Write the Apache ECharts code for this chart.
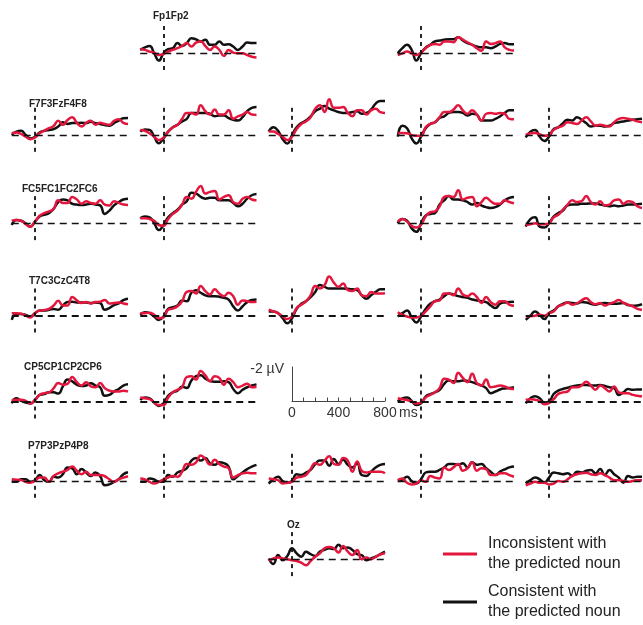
<!DOCTYPE html>
<html><head><meta charset="utf-8">
<script src="https://cdn.jsdelivr.net/npm/echarts@6/dist/echarts.min.js"></script>
<style>html,body{margin:0;padding:0;background:#fff}#c{width:643px;height:625px}</style>
</head><body><div id="c"></div>
<script>
// ---- DATA ----
const times = [-200,-160,-120,-80,-40,0,40,80,120,160,200,240,280,320,360,400,440,480,520,560,600,640,680,720,760,800];
const seriesNames = ['Inconsistent with\nthe predicted noun', 'Consistent with\nthe predicted noun'];
const scaleTicks = [0, 400, 800];
const scaleAmp = 2;
const groupLabels = ['Fp1Fp2','F7F3FzF4F8','FC5FC1FC2FC6','T7C3CzC4T8','CP5CP1CP2CP6','P7P3PzP4P8','Oz'];

const Fp1_con = [-0.2,-0.35,-0.43,0,0.43,0,-0.25,-0.3,-0.6,-0.43,-0.6,-0.88,-0.82,-0.7,-0.8,-0.5,-0.5,-0.7,-0.5,-0.53,-0.4,-0.2,-0.4,-0.63,-0.6,-0.6];
const Fp1_inc = [-0.24,-0.2,-0.1,-0.04,0.1,0.04,-0.1,-0.2,-0.3,-0.43,-0.6,-0.4,-0.63,-0.7,-0.43,-0.2,-0.4,-0.2,0.16,-0.2,-0.04,0,0,0.1,0.2,0.24];
const Fp2_con = [0,-0.3,-0.5,-0.2,0.43,0,-0.33,-0.5,-0.7,-0.75,-0.8,-0.82,-0.82,-0.94,-0.75,-0.6,-0.5,-0.4,-0.35,-0.35,-0.3,-0.4,-0.55,-0.6,-0.53,-0.53];
const Fp2_inc = [0.1,0,-0.1,0,0.1,-0.05,-0.3,-0.5,-0.55,-0.5,-0.7,-0.7,-0.65,-0.95,-0.8,-0.65,-0.5,-0.3,-0.15,-0.7,-0.55,-0.6,-0.7,-0.35,-0.2,-0.16];
const F7_con = [0,-0.2,-0.25,0,0.2,0.1,-0.15,-0.25,-0.3,-0.35,-0.5,-0.75,-0.65,-0.7,-0.7,-0.72,-0.7,-0.78,-0.7,-0.65,-0.58,-0.55,-0.7,-0.85,-0.98,-1.0];
const F7_inc = [-0.1,-0.14,-0.06,0.1,0.25,0.14,-0.1,-0.25,-0.4,-0.53,-0.84,-0.6,-0.88,-1.04,-0.72,-0.5,-0.72,-0.84,-0.6,-0.72,-0.65,-0.6,-0.84,-0.92,-0.72,-0.65];
const F3_con = [-0.2,-0.33,-0.3,0.1,0.48,0.2,-0.2,-0.45,-0.6,-0.8,-0.95,-1.3,-1.3,-1.3,-1.3,-1.25,-1.1,-1.15,-1.15,-1.0,-0.9,-0.85,-1.05,-1.4,-1.6,-1.65];
const F3_inc = [-0.3,-0.25,-0.1,0.1,0.3,0.15,-0.2,-0.45,-0.6,-0.95,-1.3,-1.3,-1.2,-1.75,-1.4,-1.2,-1.5,-1.2,-1.2,-1.45,-0.95,-1.1,-1.2,-1.35,-1.2,-1.18];
const Fz_con = [-0.2,-0.45,-0.25,0.25,0.5,0,-0.45,-0.7,-0.85,-1.1,-1.4,-1.55,-1.7,-1.55,-1.45,-1.35,-1.3,-1.3,-1.35,-1.4,-1.25,-1.3,-1.5,-1.85,-2.0,-2.0];
const Fz_inc = [-0.2,-0.2,-0.06,0.1,0.3,0.1,-0.35,-0.65,-0.8,-1.05,-1.55,-1.75,-1.35,-2.1,-1.6,-1.6,-1.65,-1.3,-1.1,-1.45,-1.45,-1.2,-1.45,-1.55,-1.35,-1.3];
const F4_con = [0.1,-0.55,-0.4,0.2,0.5,0.1,-0.4,-0.65,-0.75,-1.0,-1.1,-1.3,-1.35,-1.35,-1.3,-1.15,-1.25,-1.2,-0.85,-0.85,-0.85,-0.95,-1.1,-1.3,-1.45,-1.45];
const F4_inc = [-0.1,-0.12,-0.1,0,0.05,0.05,-0.45,-0.65,-0.75,-1.05,-1.35,-1.35,-1.5,-1.75,-1.45,-1.25,-1.45,-1.2,-0.85,-1.25,-1.3,-1.25,-1.3,-1.25,-0.95,-0.92];
const F8_con = [0.15,-0.2,-0.3,0.1,0.35,0.1,-0.35,-0.45,-0.7,-0.9,-0.85,-1.05,-0.9,-0.7,-0.5,-0.55,-0.55,-0.5,-0.55,-0.7,-0.75,-0.8,-0.85,-0.9,-0.92,-0.95];
const F8_inc = [0,-0.1,-0.12,-0.05,0.05,0,-0.3,-0.45,-0.55,-0.75,-0.7,-0.65,-0.85,-1.05,-0.8,-0.55,-0.6,-0.55,-0.5,-0.75,-0.95,-1.0,-0.95,-0.9,-0.8,-0.75];
const FC5_con = [0.1,-0.2,-0.15,0,0.2,-0.1,-0.4,-0.5,-0.6,-0.85,-1.25,-1.4,-1.35,-1.15,-1.1,-1.08,-1.1,-1.15,-1.1,-1.05,-0.55,-0.75,-1.05,-1.25,-1.4,-1.45];
const FC5_inc = [-0.15,-0.2,-0.15,0.05,0.2,-0.1,-0.45,-0.6,-0.7,-0.85,-1.35,-1.2,-1.2,-1.55,-1.4,-1.15,-1.3,-1.2,-1.15,-1.35,-1.1,-1.05,-1.3,-1.2,-1.1,-1.08];
const FC1_con = [-0.3,-0.4,-0.35,0,0.4,0.1,-0.35,-0.6,-0.8,-1.1,-1.3,-1.8,-1.75,-1.55,-1.45,-1.5,-1.5,-1.35,-1.35,-1.35,-1.2,-1.0,-1.15,-1.45,-1.65,-1.72];
const FC1_inc = [-0.3,-0.3,-0.25,-0.15,0.1,0.15,-0.25,-0.55,-0.75,-1.1,-1.55,-1.45,-1.85,-2.2,-1.75,-1.85,-1.9,-1.4,-1.55,-1.65,-1.25,-1.15,-1.45,-1.55,-1.4,-1.35];
const FC2_con = [0,-0.25,-0.15,0.3,0.5,0,-0.45,-0.55,-0.6,-1.1,-1.35,-1.6,-1.4,-1.4,-1.35,-1.25,-1.1,-1.2,-1.05,-0.95,-0.9,-0.95,-1.1,-1.35,-1.5,-1.55];
const FC2_inc = [-0.1,-0.25,-0.1,0.15,0.25,0.1,-0.4,-0.65,-0.7,-1.0,-1.55,-1.6,-1.55,-1.95,-1.4,-1.5,-1.55,-1.0,-1.25,-1.5,-1.3,-1.15,-1.15,-1.35,-1.25,-1.18];
const FC6_con = [0.2,-0.25,-0.35,0.2,0.25,0,-0.4,-0.6,-0.75,-1.05,-1.1,-1.1,-1.15,-1.15,-1.17,-1.17,-1.1,-1.05,-1.0,-1.05,-1.0,-1.05,-1.1,-1.1,-1.12,-1.15];
const FC6_inc = [0.1,0.05,0,0.05,0.05,0,-0.35,-0.5,-0.8,-1.1,-1.35,-1.25,-1.3,-1.6,-1.25,-1.1,-1.3,-1.05,-1.1,-1.35,-1.4,-1.15,-1.3,-1.25,-1.0,-0.9];
const T7_con = [0.25,-0.1,-0.1,-0.05,0.05,-0.15,-0.3,-0.3,-0.35,-0.4,-0.35,-0.6,-0.8,-0.82,-0.78,-0.78,-0.78,-0.75,-0.78,-0.75,-0.35,-0.45,-0.62,-0.72,-0.92,-1.0];
const T7_inc = [-0.15,-0.15,-0.12,0,0.1,-0.15,-0.3,-0.33,-0.4,-0.6,-0.88,-0.6,-0.6,-1.1,-0.9,-0.75,-0.8,-0.72,-0.8,-0.82,-0.92,-0.72,-0.75,-0.78,-0.72,-0.68];
const C3_con = [-0.05,-0.2,-0.15,0.05,0.25,0.05,-0.4,-0.5,-0.6,-0.9,-0.85,-1.35,-1.5,-1.35,-1.2,-1.15,-1.15,-1.12,-1.05,-0.95,-0.55,-0.3,-0.55,-0.8,-0.92,-0.95];
const C3_inc = [-0.15,-0.15,-0.18,-0.05,0.15,0.1,-0.35,-0.42,-0.55,-0.85,-1.4,-1.45,-1.3,-1.75,-1.45,-1.25,-1.55,-1.3,-1.15,-1.35,-1.15,-0.65,-0.9,-0.85,-0.8,-0.82];
const Cz_con = [-0.25,-0.25,-0.15,0.15,0.45,0.15,-0.4,-0.7,-0.85,-1.1,-1.4,-1.8,-1.7,-1.6,-1.6,-1.6,-1.6,-1.58,-1.55,-1.5,-1.2,-1.0,-1.2,-1.4,-1.55,-1.55];
const Cz_inc = [-0.35,-0.25,-0.15,0.05,0.2,0.05,-0.45,-0.65,-0.85,-1.2,-1.75,-1.6,-1.8,-2.3,-1.95,-1.7,-1.9,-1.5,-1.45,-1.6,-1.2,-1.15,-1.4,-1.3,-1.3,-1.32];
const C4_con = [0.05,-0.15,-0.3,0.1,0.4,0.05,-0.4,-0.7,-0.85,-0.95,-1.15,-1.3,-1.25,-1.15,-1.1,-1.05,-0.95,-0.9,-0.85,-0.8,-0.6,-0.45,-0.7,-0.78,-0.8,-0.82];
const C4_inc = [-0.2,-0.05,0.05,0.1,0.1,0,-0.25,-0.55,-0.85,-0.9,-1.3,-1.3,-1.2,-1.6,-1.25,-1.15,-1.3,-1.1,-0.75,-1.1,-0.8,-0.65,-0.85,-0.85,-0.65,-0.58];
const T8_con = [0.25,0,-0.25,-0.05,0.2,-0.15,-0.3,-0.55,-0.7,-0.78,-0.75,-0.72,-0.8,-0.78,-0.7,-0.65,-0.72,-0.75,-0.72,-0.7,-0.72,-0.75,-0.62,-0.58,-0.6,-0.68];
const T8_inc = [0.05,0.02,0,-0.05,0,-0.15,-0.25,-0.55,-0.65,-0.78,-0.65,-0.72,-0.9,-1.02,-0.8,-0.68,-0.75,-0.6,-0.7,-0.8,-0.92,-0.75,-0.65,-0.55,-0.4,-0.35];
const CP5_con = [0.1,-0.2,-0.05,0.05,0.1,-0.1,-0.4,-0.45,-0.55,-0.55,-0.48,-0.9,-1.3,-1.2,-1.0,-0.92,-0.95,-1.08,-0.95,-0.85,-0.35,-0.4,-0.6,-0.75,-0.95,-1.02];
const CP5_inc = [-0.1,-0.12,-0.12,-0.05,0.1,-0.1,-0.4,-0.5,-0.55,-0.78,-1.1,-1.0,-1.05,-1.45,-1.15,-0.95,-1.15,-0.9,-0.85,-1.1,-0.8,-0.65,-0.6,-0.6,-0.65,-0.6];
const CP1_con = [-0.1,-0.25,-0.2,0.05,0.25,0.1,-0.35,-0.55,-0.65,-0.88,-0.8,-1.25,-1.5,-1.55,-1.35,-1.22,-1.18,-1.18,-1.2,-1.15,-0.75,-0.5,-0.7,-0.85,-0.95,-1.02];
const CP1_inc = [-0.25,-0.2,-0.15,0.05,0.2,0.2,-0.25,-0.55,-0.7,-0.85,-1.45,-1.5,-1.3,-1.8,-1.55,-1.2,-1.5,-1.4,-1.0,-1.35,-1.15,-0.85,-0.95,-1.05,-0.85,-0.88];
const CP2_con = [0,-0.2,-0.25,-0.05,0.2,0.1,-0.3,-0.45,-0.55,-0.7,-1.05,-1.25,-1.2,-1.2,-1.25,-1.22,-1.15,-1.05,-0.95,-0.8,-0.5,-0.6,-0.72,-0.78,-0.8,-0.85];
const CP2_inc = [-0.2,-0.15,-0.1,0,0.1,0.05,-0.25,-0.4,-0.55,-0.8,-1.35,-1.3,-1.1,-1.7,-1.4,-1.15,-1.65,-1.1,-0.95,-1.3,-0.85,-0.9,-0.95,-0.9,-0.78,-0.75];
const CP6_con = [0.1,-0.2,-0.32,-0.2,0.05,0,-0.45,-0.65,-0.75,-0.82,-0.9,-0.95,-0.98,-0.98,-0.96,-0.95,-0.98,-0.92,-0.85,-0.8,-0.4,-0.55,-0.75,-0.7,-0.72,-0.72];
const CP6_inc = [-0.1,-0.15,-0.12,-0.05,0.15,0.08,-0.15,-0.45,-0.55,-0.6,-0.85,-0.85,-0.95,-1.18,-0.95,-0.7,-0.95,-0.8,-0.6,-0.9,-0.55,-0.5,-0.5,-0.4,-0.35,-0.3];
const P7_con = [0.05,0.05,-0.1,-0.1,0.05,-0.05,-0.35,-0.05,0.05,-0.25,-0.2,-0.4,-0.8,-0.75,-0.4,-0.7,-0.5,-0.3,-0.5,-0.3,0.25,0.2,0.05,-0.1,-0.4,-0.52];
const P7_inc = [-0.1,-0.08,-0.05,0.05,0.1,0,-0.2,-0.2,0.05,-0.3,-0.45,-0.55,-0.65,-0.85,-0.6,-0.4,-0.55,-0.35,-0.35,-0.35,-0.28,-0.1,0.05,-0.1,-0.2,-0.28];
const P3_con = [0.05,0.05,-0.15,-0.1,0.05,0.05,-0.35,-0.25,-0.5,-0.6,-0.75,-1.2,-1.35,-1.2,-1.35,-1.05,-0.95,-1.1,-1.05,-0.85,-0.1,-0.3,-0.5,-0.7,-0.85,-0.95];
const P3_inc = [-0.15,-0.1,0.05,0.15,0.05,-0.1,-0.2,-0.3,-0.25,-0.55,-1.0,-0.95,-1.1,-1.5,-1.3,-0.95,-1.25,-1.0,-0.85,-0.75,-0.2,-0.35,-0.45,-0.48,-0.45,-0.45];
const Pz_con = [0.15,-0.1,-0.25,0,0.1,0,-0.4,-0.35,-0.5,-0.65,-1.0,-1.2,-1.2,-0.9,-1.3,-1.0,-1.25,-0.95,-0.8,-1.05,-0.35,-0.3,-0.55,-0.8,-0.95,-1.0];
const Pz_inc = [-0.15,-0.1,-0.05,0.15,0.1,0.05,-0.2,-0.25,-0.35,-0.7,-1.05,-0.95,-1.2,-1.45,-1.0,-0.95,-1.35,-1.2,-0.55,-1.15,-0.6,-0.5,-0.55,-0.55,-0.55,-0.45];
const P4_con = [0,-0.08,-0.25,0,0.15,-0.1,-0.5,-0.55,-0.55,-0.65,-0.8,-1.0,-1.0,-0.95,-1.05,-0.8,-1.1,-0.95,-1.0,-0.75,-0.55,-0.35,-0.55,-0.68,-0.8,-0.85];
const P4_inc = [-0.05,-0.15,0.1,0.2,0.15,-0.05,0.05,-0.3,-0.2,-0.15,-0.8,-0.65,-0.8,-1.0,-0.6,-0.75,-1.1,-0.6,-0.75,-0.7,-0.35,-0.35,-0.45,-0.45,-0.35,-0.25];
const P8_con = [0.15,-0.05,-0.2,-0.1,0.1,-0.2,-0.5,-0.45,-0.4,-0.45,-0.3,-0.55,-0.5,-0.6,-0.65,-0.45,-0.7,-0.35,-0.65,-0.4,-0.2,0.1,-0.3,-0.2,-0.25,-0.25];
const P8_inc = [0.25,0.15,0.05,0.1,0.1,0.2,0.15,0,0.05,-0.1,-0.3,-0.4,-0.45,-0.48,-0.4,-0.35,-0.45,-0.35,-0.2,-0.05,-0.05,0,0.05,0,-0.05,-0.05];
const Oz_con = [-0.05,0.28,-0.25,0.05,-0.2,-0.65,-0.35,-0.15,-0.45,-0.3,-0.2,-0.45,-0.55,-0.65,-0.6,-0.85,-0.65,-0.7,-0.55,-0.3,-0.25,0.05,-0.05,-0.15,-0.3,-0.45];
const Oz_inc = [0.08,-0.05,-0.1,-0.05,0,0.05,0.1,0.2,0.35,0.1,-0.15,-0.35,-0.65,-0.72,-0.65,-0.4,-0.78,-0.45,-0.25,-0.55,0,-0.1,0,-0.15,-0.28,-0.35];

const channels = {
  Fp1:[Fp1_inc,Fp1_con], Fp2:[Fp2_inc,Fp2_con],
  F7:[F7_inc,F7_con], F3:[F3_inc,F3_con], Fz:[Fz_inc,Fz_con], F4:[F4_inc,F4_con], F8:[F8_inc,F8_con],
  FC5:[FC5_inc,FC5_con], FC1:[FC1_inc,FC1_con], FC2:[FC2_inc,FC2_con], FC6:[FC6_inc,FC6_con],
  T7:[T7_inc,T7_con], C3:[C3_inc,C3_con], Cz:[Cz_inc,Cz_con], C4:[C4_inc,C4_con], T8:[T8_inc,T8_con],
  CP5:[CP5_inc,CP5_con], CP1:[CP1_inc,CP1_con], CP2:[CP2_inc,CP2_con], CP6:[CP6_inc,CP6_con],
  P7:[P7_inc,P7_con], P3:[P3_inc,P3_con], Pz:[Pz_inc,Pz_con], P4:[P4_inc,P4_con], P8:[P8_inc,P8_con],
  Oz:[Oz_inc,Oz_con]
};

// ---- LAYOUT ----
const colOnset = [35, 163.5, 292, 421, 549];
const rowBase = [53.3, 135, 223.3, 315.7, 401.7, 481, 559.3];
const rowDashW = [1.3, 1.4, 1.4, 2, 2, 1.4, 1.3];
const pxPerMs = 0.11625, pxPerUV = 17;
const tMin = -200, tMax = 800, yTop = -2.4, yBot = 1.2;
const panelPos = {
  Fp1:[1,0], Fp2:[3,0],
  F7:[0,1], F3:[1,1], Fz:[2,1], F4:[3,1], F8:[4,1],
  FC5:[0,2], FC1:[1,2], FC2:[3,2], FC6:[4,2],
  T7:[0,3], C3:[1,3], Cz:[2,3], C4:[3,3], T8:[4,3],
  CP5:[0,4], CP1:[1,4], CP2:[3,4], CP6:[4,4],
  P7:[0,5], P3:[1,5], Pz:[2,5], P4:[3,5], P8:[4,5],
  Oz:[2,6]
};
const labelPos = [[153,16],[29,104],[22,189],[29,281],[24,367],[28,446],[287,525]];
const legendTop = [534, 582];
const RED = '#e3173e', BLACK = '#111111';
const FONT = '"Liberation Sans", Arial, sans-serif';

const grid = [], xAxis = [], yAxis = [], series = [];
Object.keys(channels).forEach((ch, i) => {
  const [c, r] = panelPos[ch];
  const x0 = colOnset[c], b = rowBase[r];
  grid.push({left: x0 + tMin * pxPerMs, top: b + yTop * pxPerUV,
             width: (tMax - tMin) * pxPerMs, height: (yBot - yTop) * pxPerUV});
  xAxis.push({gridIndex: i, type: 'value', min: tMin, max: tMax, show: false});
  yAxis.push({gridIndex: i, type: 'value', inverse: true, min: yTop, max: yBot, show: false});
  const [inc, con] = channels[ch];
  series.push({
    type: 'line', name: seriesNames[1], xAxisIndex: i, yAxisIndex: i,
    data: times.map((t, k) => [t, con[k]]), smooth: true, symbol: 'none', clip: false,
    color: BLACK, lineStyle: {color: BLACK, width: 2.5},
    markLine: {silent: true, symbol: 'none', label: {show: false}, animation: false,
      lineStyle: {color: BLACK, type: [7, 5], width: rowDashW[r]},
      data: [{yAxis: 0},
             [{coord: [0, -1.6], lineStyle: {color: BLACK, type: [4, 4], width: 1.8}}, {coord: [0, 1.0]}]]}
  });
  series.push({
    type: 'line', name: seriesNames[0], xAxisIndex: i, yAxisIndex: i,
    data: times.map((t, k) => [t, inc[k]]), smooth: true, symbol: 'none', clip: false,
    color: RED, lineStyle: {color: RED, width: 2.5}
  });
});

// scale bar
const sbi = grid.length;
grid.push({left: 292, top: 367, width: 800 * pxPerMs, height: scaleAmp * pxPerUV});
xAxis.push({gridIndex: sbi, type: 'value', min: 0, max: 800, interval: 100,
  axisLine: {show: true, lineStyle: {color: '#444', width: 1}},
  axisTick: {show: true, inside: true, length: 3.5, lineStyle: {color: '#444'}},
  splitLine: {show: false},
  axisLabel: {show: true, margin: 5, fontSize: 14, color: '#333', fontFamily: FONT,
    showMinLabel: true, showMaxLabel: true,
    formatter: v => scaleTicks.includes(v) ? String(v) : ''}});
yAxis.push({gridIndex: sbi, type: 'value', min: 0, max: scaleAmp,
  axisLine: {show: true, onZero: false, lineStyle: {color: '#444', width: 1}},
  axisTick: {show: false}, axisLabel: {show: false}, splitLine: {show: false}});

const graphic = groupLabels.map((t, k) => ({
  type: 'text', x: labelPos[k][0], y: labelPos[k][1],
  style: {text: t, font: 'bold 10px ' + FONT, fill: '#222', textVerticalAlign: 'middle'}
}));
graphic.push({type: 'text', x: 284, y: 369,
  style: {text: '-' + scaleAmp + ' µV', font: '14px ' + FONT, fill: '#333', textAlign: 'right', textVerticalAlign: 'middle'}});
graphic.push({type: 'text', x: 399, y: 413,
  style: {text: 'ms', font: '14px ' + FONT, fill: '#333', textVerticalAlign: 'middle'}});

const legend = seriesNames.map((n, k) => ({
  data: [n], orient: 'vertical', left: 443, top: legendTop[k], padding: 0,
  itemWidth: 34, itemHeight: 3, icon: 'rect', selectedMode: false,
  textStyle: {fontSize: 16, lineHeight: 20, color: '#222', fontFamily: FONT, padding: [0, 0, 0, 6]}
}));

const chart = echarts.init(document.getElementById('c'), null, {renderer: 'canvas'});
chart.setOption({
  animation: false,
  backgroundColor: '#fff',
  grid, xAxis, yAxis, series, graphic, legend
});
</script></body></html>
